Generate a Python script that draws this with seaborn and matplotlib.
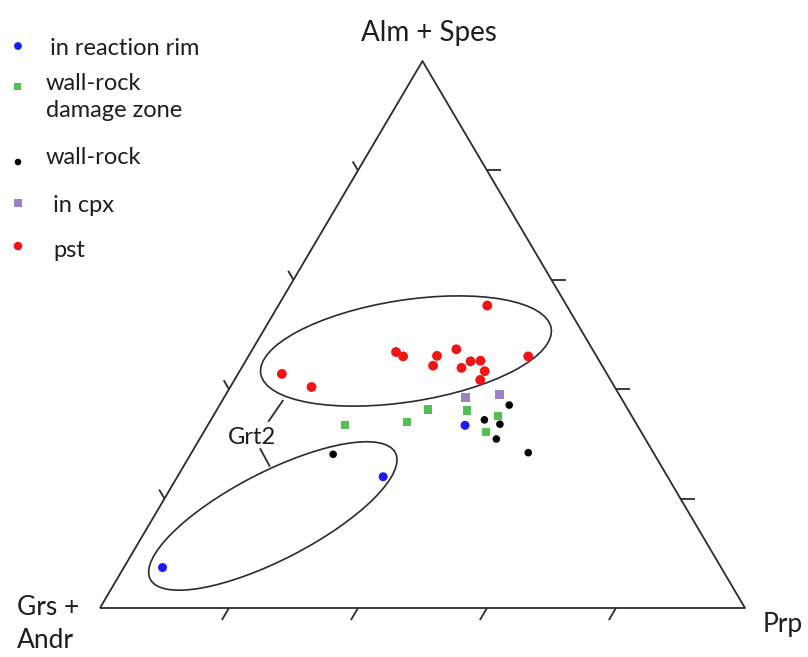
import numpy as np
import pandas as pd
import matplotlib
matplotlib.use("Agg")
import matplotlib.pyplot as plt
from matplotlib.patches import Ellipse
import seaborn as sns

# Garnet compositions (mol %): Alm+Spes, Prp, Grs+Andr
rim_alm = [33.4, 24.0, 7.4]
rim_prp = [39.9, 31.9, 6.0]
rim_grs = [26.7, 44.1, 86.6]

dmg_alm = [36.3, 36.1, 34.0, 33.4, 35.1, 32.1]
dmg_prp = [32.7, 38.9, 30.6, 21.3, 44.2, 43.8]
dmg_grs = [31.0, 25.0, 35.4, 45.3, 20.7, 24.1]

wall_alm = [37.1, 34.4, 33.6, 30.9, 28.4, 28.1]
wall_prp = [44.9, 42.4, 45.2, 46.0, 52.2, 22.1]
wall_grs = [18.0, 23.2, 21.2, 23.1, 19.4, 49.8]

cpx_alm = [38.5, 39.0]
cpx_prp = [37.4, 42.5]
cpx_grs = [24.1, 18.5]

pst_alm = [55.3, 46.8, 46.0, 46.1, 47.3, 44.3, 43.9, 45.1, 45.2, 43.3, 41.7, 46.0, 42.8, 40.4]
pst_prp = [32.4, 22.5, 24.0, 29.2, 31.6, 29.5, 34.1, 34.9, 36.4, 38.0, 38.1, 43.4, 6.8, 12.6]
pst_grs = [12.3, 30.7, 30.0, 24.7, 21.1, 26.2, 22.0, 20.0, 18.4, 18.7, 20.2, 10.6, 50.4, 47.0]

groups = ["in reaction rim", "wall-rock\ndamage zone", "wall-rock", "in cpx", "pst"]
colors = ["#1c1cf2", "#55bf55", "#000000", "#9a82c8", "#f01515"]
markers = ["o", "s", "o", "s", "o"]
sizes = [42, 34, 30, 40, 50]

apex_top = "Alm + Spes"
apex_left = "Grs +\nAndr"
apex_right = "Prp"
grt_label = "Grt2"

H = np.sqrt(3) / 2


def to_xy(alm, prp, grs):
    alm = np.asarray(alm, float)
    prp = np.asarray(prp, float)
    grs = np.asarray(grs, float)
    tot = alm + prp + grs
    a = alm / tot
    p = prp / tot
    return p + 0.5 * a, a * H


comps = [
    (rim_alm, rim_prp, rim_grs),
    (dmg_alm, dmg_prp, dmg_grs),
    (wall_alm, wall_prp, wall_grs),
    (cpx_alm, cpx_prp, cpx_grs),
    (pst_alm, pst_prp, pst_grs),
]
frames = []
for g, (a, p, r) in zip(groups, comps):
    x, y = to_xy(a, p, r)
    frames.append(pd.DataFrame({"x": x, "y": y, "group": g}))
df = pd.concat(frames, ignore_index=True)

sns.set_theme(style="white")
plt.rcParams["font.family"] = ["Lato", "DejaVu Sans"]

fig = plt.figure(figsize=(8.08, 6.57), dpi=100)
ax = fig.add_axes([0, 0, 1, 1])
ax.set_xlim(-0.155, 1.0977)
ax.set_ylim(-0.0776, 0.9627)
ax.axis("off")

line_kw = dict(color="#2b2b2b", lw=1.3, solid_capstyle="butt")

# triangle frame
ax.plot([0, 1, 0.5, 0], [0, 0, H, 0], **line_kw)

# edge ticks at 20 % steps
tl = 0.022
for f in [0.2, 0.4, 0.6, 0.8]:
    # bottom edge, pointing down-left
    ax.plot([f, f - 0.5 * tl], [0, -H * tl], **line_kw)
    # left edge, pointing up-left
    lx, ly = 0.5 * f, H * f
    ax.plot([lx, lx - 0.5 * tl * 0.75], [ly, ly + H * tl * 0.75], **line_kw)
    # right edge, pointing right
    rx, ry = 1 - 0.5 * f, H * f
    ax.plot([rx, rx + tl], [ry, ry], **line_kw)

# field outlines
ax.add_patch(Ellipse((0.4744, 0.4069), 0.456, 0.161, angle=9.1,
                     fill=False, ec="#2b2b2b", lw=1.2))
ax.add_patch(Ellipse((0.268, 0.1457), 0.4295, 0.138, angle=27.9,
                     fill=False, ec="#2b2b2b", lw=1.2))

# data points
for g, c, m, s in zip(groups, colors, markers, sizes):
    sub = df[df["group"] == g]
    sns.scatterplot(data=sub, x="x", y="y", color=c, marker=m, s=s,
                    edgecolor="none", ax=ax, legend=False, zorder=3)

# Grt2 label with leader lines to both fields
def px(xp, yp):
    return (xp - 100) / 645, (608 - yp) / 631.6

ax.text(*px(252, 437), grt_label, ha="center", va="center", fontsize=17,
        color="#1e1e1e")
ax.plot(*zip(px(283.3, 400), px(268.3, 421.7)), **line_kw)
ax.plot(*zip(px(260, 448.3), px(270, 466.7)), **line_kw)

# apex labels
ax.text(*px(429, 33), apex_top, ha="center", va="center", fontsize=20,
        color="#1e1e1e")
ax.text(*px(17, 624), apex_left, ha="left", va="center", fontsize=19,
        color="#1e1e1e", linespacing=1.4)
ax.text(*px(763, 625), apex_right, ha="left", va="center", fontsize=19,
        color="#1e1e1e")

# legend
leg_rows = [(46, 48), (86, 97), (162, 157), (203, 205), (246, 250)]
text_x = [50, 46, 46, 53, 53]
for (my, ty), tx, g, c, m, s in zip(leg_rows, text_x, groups, colors, markers, sizes):
    ax.scatter(*px(18, my), color=c, marker=m, s=s * 0.75, edgecolor="none",
               zorder=3)
    ax.text(*px(tx, ty), g, ha="left", va="center", fontsize=17,
            color="#1e1e1e", linespacing=1.35)

fig.savefig("out.png", dpi=100, facecolor="white")
